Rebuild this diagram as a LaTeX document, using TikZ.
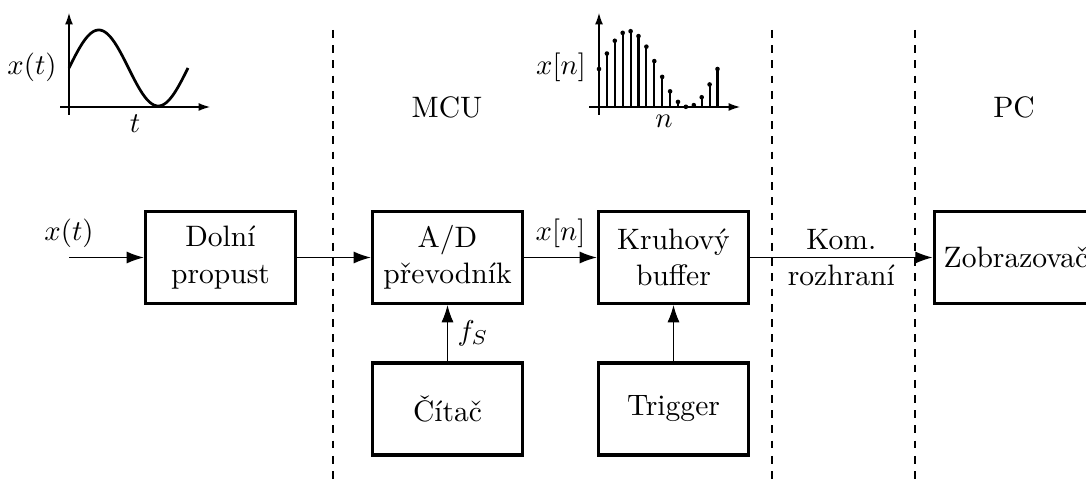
\documentclass[tikz,border=0pt]{standalone}
\usetikzlibrary{arrows.meta}
\tikzset{
  every node/.style={font=\fontsize{10.3}{12.6}\selectfont},
  block/.style={draw, line width=1.15pt, minimum width=52.3pt, minimum height=32pt, align=center},
  conn/.style={line width=0.4pt, -{Latex[length=6pt,width=4.2pt]}},
  axis/.style={line width=0.4pt, -{Latex[length=4pt,width=2.8pt]}},
  divider/.style={line width=0.4pt, dash pattern=on 2.7pt off 2.6pt},
  curve/.style={line width=0.95pt},
  stem/.style={line width=0.7pt},
}
\begin{document}
\begin{tikzpicture}[x=0.34843pt, y=-0.34843pt]
\useasboundingbox (0,0) rectangle (1086,481);

% domain boundaries
\draw[divider] (333,30) -- (333,490);
\draw[divider] (772,30) -- (772,490);
\draw[divider] (915,30) -- (915,490);

% section labels
\node (mcu) at (447,107) {MCU};
\node (pc) at (1014,107) {PC};

% signal chain blocks
\node[block] (lp) at (220.5,257.5) {Dolní\\propust};
\node[block] (ad) at (447.5,257.5) {A/D\\převodník};
\node[block] (buf) at (673.5,257.5) {Kruhový\\buffer};
\node[block, anchor=west] (disp) at (932.5,257.5) {Zobrazovač};
\node[block] (cit) at (447.5,409) {Čítač};
\node[block] (trig) at (673.5,409) {Trigger};

% connectors
\coordinate (in) at (69,257.5);
\node[above] (inlabel) at (in) {$x(t)$};
\draw[conn] (in) -- (lp.west);
\draw[conn] (lp.east) -- (ad.west);
\draw[conn] (ad.east) -- node[above] (xn) {$x[n]$} (buf.west);
\draw[conn] (buf.east) -- node[align=center] (kom) {Kom.\\rozhraní} (disp.west);
\draw[conn] (cit.north) -- node[right] (fs) {$f_S$} (ad.south);
\draw[conn] (trig.north) -- (buf.south);

% continuous-time signal (one period over 119 units)
\draw[axis] (69,115) -- (69,13);
\draw[axis] (60,107) -- (210,107);
\draw[curve, domain=0:119, samples=100, smooth, variable=\u]
  plot ({69+\u},{68-38*sin(3.02521*\u)});
\node (xt) at (32,67) {$x(t)$};
\node[anchor=base] (tl) at (135,133) {$t$};

% sampled signal
\draw[axis] (599,115) -- (599,13);
\draw[axis] (589,107) -- (740,107);
\foreach \k in {0,...,15} {
  \pgfmathsetmacro\h{38*(1+sin(24*\k))}
  \draw[stem] (599+7.9*\k,107) -- (599+7.9*\k,107-\h);
  \fill (599+7.9*\k,107-\h) circle[radius=0.8pt];
}
\node (xnl) at (561,67.5) {$x[n]$};
\node[anchor=base] (nl) at (664,128) {$n$};
\end{tikzpicture}
\end{document}
